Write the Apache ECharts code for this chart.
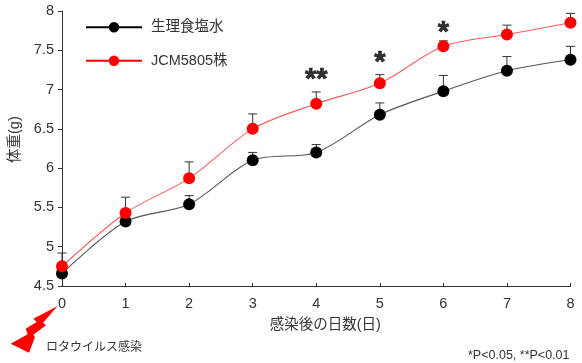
<!DOCTYPE html>
<html><head><meta charset="utf-8">
<style>html,body{margin:0;padding:0;background:#fff}#c{width:582px;height:363px}</style>
<script src="https://cdn.jsdelivr.net/npm/echarts@6/dist/echarts.min.js"></script>
</head><body><div id="c"></div>
<script>
const days = ['0','1','2','3','4','5','6','7','8'];
const salineName = '生理食塩水';
const strainName = 'JCM5805株';
const saline = [4.66,5.32,5.54,6.10,6.20,6.68,6.98,7.24,7.38];
const strain = [4.75,5.43,5.87,6.50,6.82,7.08,7.55,7.70,7.85];
const salineTop = [4.72,5.40,5.65,6.20,6.30,6.83,7.18,7.42,7.55];
const strainTop = [4.92,5.63,6.08,6.69,6.97,7.19,7.62,7.82,7.97];
const marks = [['4',7.12,'**'],['5',7.34,'*'],['6',7.72,'*']];
const FONT = '"Liberation Sans","Noto Sans CJK JP",sans-serif';
const TXT = '#333';

function errSeries(vals, tops){
  return {
    type:'custom', silent:true, z:2, legendHoverLink:false,
    data: days.map((d,i)=>[i,vals[i],tops[i]]),
    encode:{x:0,y:[1,2]},
    renderItem(p,api){
      const a=api.coord([api.value(0),api.value(1)]), b=api.coord([api.value(0),api.value(2)]);
      const s={stroke:'#333',lineWidth:1};
      return {type:'group',children:[
        {type:'line',shape:{x1:a[0],y1:a[1],x2:b[0],y2:b[1]},style:s},
        {type:'line',shape:{x1:b[0]-4.5,y1:b[1],x2:b[0]+4.5,y2:b[1]},style:s}
      ]};
    }
  };
}
function lineSeries(name,vals,color,lc){
  return {name,type:'line',data:vals,smooth:0.3,z:3,symbol:'circle',symbolSize:12,
    showSymbol:true,
    lineStyle:{color:lc,width:1.1},itemStyle:{color:color}};
}
const chart = echarts.init(document.getElementById('c'),null,{renderer:'canvas'});
chart.setOption({
  animation:false,
  textStyle:{fontFamily:FONT},
  grid:{left:62,right:11.5,top:11,bottom:77},
  legend:{
    left:80,top:15,orient:'vertical',itemWidth:56,itemHeight:13,itemGap:19,symbolSize:12,
    textStyle:{fontFamily:FONT,fontSize:14.5,color:TXT,padding:[0,0,0,4]},
    data:[
      {name:salineName,lineStyle:{color:'#000',width:2}},
      {name:strainName,lineStyle:{color:'#f00',width:2}}
    ]
  },
  xAxis:{type:'category',data:days,boundaryGap:false,
    axisLine:{lineStyle:{color:'#333',width:1}},
    axisTick:{inside:true,length:3,alignWithLabel:true,lineStyle:{color:'#333'}},
    axisLabel:{fontSize:14.5,color:TXT,margin:11,fontFamily:FONT},
    name:'感染後の日数(日)',nameLocation:'middle',nameGap:32,
    nameTextStyle:{fontSize:14.5,color:TXT,fontFamily:FONT,padding:[0,0,0,18]}
  },
  yAxis:{type:'value',min:4.5,max:8,interval:0.5,splitLine:{show:false},
    axisLine:{show:true,lineStyle:{color:'#333',width:1}},
    axisTick:{show:true,length:4,lineStyle:{color:'#333'}},
    axisLabel:{fontSize:14.5,color:TXT,margin:8,fontFamily:FONT,formatter:v=>String(v),showMinLabel:true,showMaxLabel:true}
  },
  series:[
    errSeries(saline,salineTop),
    errSeries(strain,strainTop),
    lineSeries(salineName,saline,'#000','#555'),
    lineSeries(strainName,strain,'#f00','#ff5a5a'),
    {type:'scatter',silent:true,symbolSize:0,z:5,data:marks.map(m=>({value:[m[0],m[1]],lab:m[2]})),
      label:{show:true,position:'inside',formatter:p=>p.data.lab,fontSize:29,fontWeight:'bold',color:'#000',textBorderColor:'#000',textBorderWidth:0.7,fontFamily:FONT}}
  ],
  graphic:[
    {type:'text',x:8,y:163,rotation:Math.PI/2,silent:true,
      style:{text:'体重(g)',font:'14.5px '+FONT,fill:TXT,align:'left',verticalAlign:'top'}},
    {type:'polygon',silent:true,shape:{points:[[57.7,306],[33.3,318.7],[36.7,322],[25.7,328.7],[27.7,334.3],[10.7,343.7],[29,352.7],[35,337],[33.3,334.7],[46,325.3],[43,322.7]]},style:{fill:'#f00'}},
    {type:'text',left:46,top:342,silent:true,style:{text:'ロタウイルス感染',font:'12px '+FONT,fill:TXT}},
    {type:'text',left:468,top:349,silent:true,style:{text:'*P<0.05, **P<0.01',font:'12.5px '+FONT,fill:TXT}}
  ]
});
</script></body></html>
